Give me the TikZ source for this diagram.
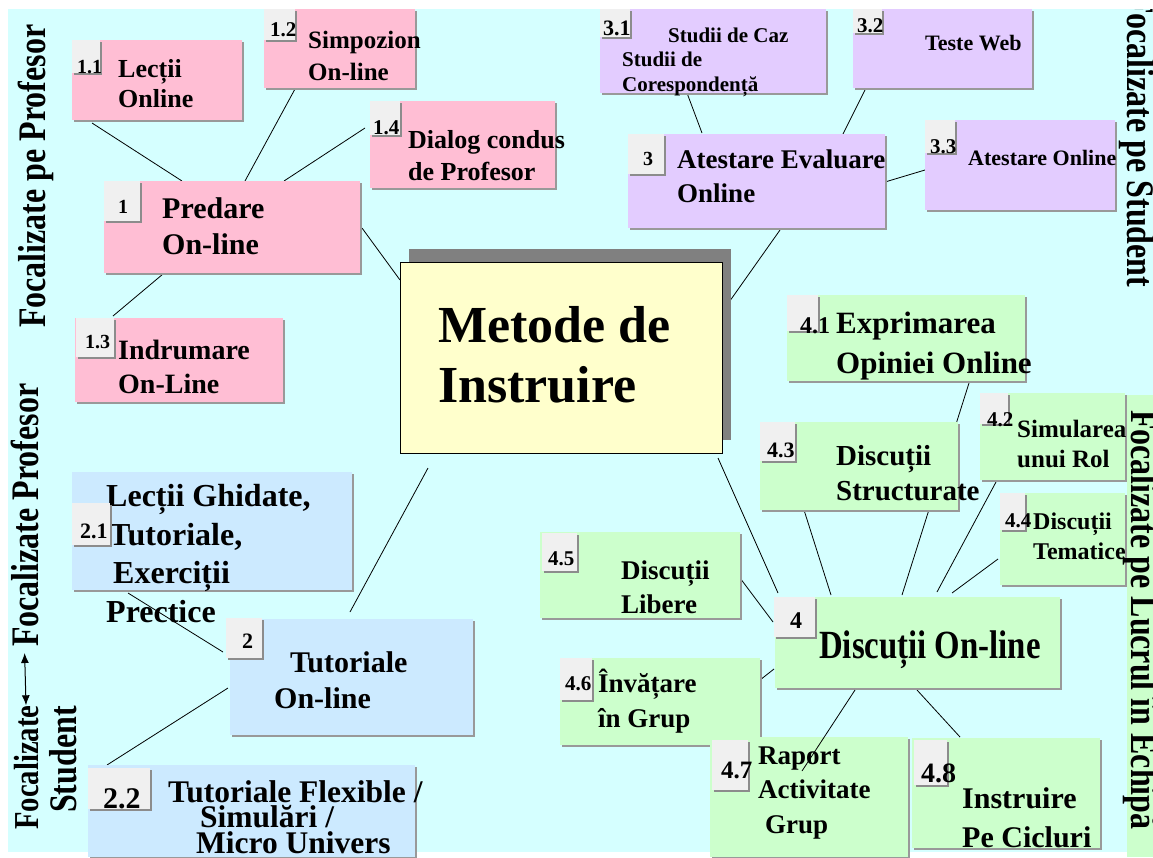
\documentclass[tikz,border=0pt]{standalone}
\usepackage{fontspec}
\setmainfont{Liberation Serif}
\newfontfamily\condfont{Liberation Serif}[FakeStretch=0.82]
\usetikzlibrary{calc,shadows,arrows.meta}
\pgfdeclarelayer{bg}
\pgfdeclarelayer{links}
\pgfsetlayers{bg,links,main}

\definecolor{slidebg}{RGB}{213,255,255}
\definecolor{pinkfill}{RGB}{255,190,212}
\definecolor{lilacfill}{RGB}{227,204,255}
\definecolor{bluefill}{RGB}{204,234,255}
\definecolor{greenfill}{RGB}{204,255,204}
\definecolor{yellowfill}{RGB}{255,255,204}
\definecolor{tabfill}{RGB}{240,240,240}

\newcommand\fsz[2]{\fontsize{#1}{#2}\selectfont\bfseries}

\tikzset{
  wh/.style 2 args={minimum width=#1pt, minimum height=#2pt},
  box/.style={anchor=north west, inner sep=0pt, outer sep=0pt,
    general shadow={fill=black!40, shadow xshift=2pt, shadow yshift=-2pt}},
  pinkbox/.style={box, fill=pinkfill},
  lilacbox/.style={box, fill=lilacfill},
  bluebox/.style={box, fill=bluefill},
  greenbox/.style={box, fill=greenfill},
  tabbox/.style={anchor=north west, inner sep=0pt, outer sep=0pt, fill=tabfill,
    general shadow={fill=black!45, shadow xshift=2pt, shadow yshift=-2pt}},
  numtxt/.style={anchor=base west, inner sep=0pt, font=\fsz{#1}{#1}},
  % multi-line text: base = baseline of the last line
  boxtxt/.style 2 args={anchor=base west, inner sep=0pt, align=left, font=\fsz{#1}{#2}},
  sidetxt/.style={anchor=base west, inner sep=0pt, font=\condfont\fsz{#1}{#1}},
  link/.style={draw=black, line width=0.8pt},
}

\begin{document}
\begin{tikzpicture}[x=1pt, y=-1pt]
\useasboundingbox (0,0) rectangle (1153,857);
\begin{pgfonlayer}{bg}
  \fill[white] (0,0) rectangle (1153,857);
  \fill[slidebg] (8,9) rectangle (1153,852);
  \fill[greenfill] (1127,395) rectangle (1153,857);
\end{pgfonlayer}

\begin{scope}
\clip (8,9) rectangle (1153,857);

% centre
\node[anchor=north west, inner sep=0pt, outer sep=0pt, wh={322}{191},
  fill=yellowfill, draw=black, line width=0.7pt,
  general shadow={fill=black!50, shadow xshift=9pt, shadow yshift=13pt}] (m) at (400,262) {};
\node[boxtxt={52}{60}] (xm) at (438,402) {Metode de\\Instruire};

% 1 - predare
\node[pinkbox, wh={170}{80}] (n11) at (72,40) {};
\node[boxtxt={26}{30}] (x11) at (118,107) {Lecții\\Online};
\node[tabbox, wh={28}{33}] (t11) at (72,40) {};
\node[numtxt=20] (k11) at (77,73) {1.1};

\node[pinkbox, wh={151}{79}] (n12) at (264,9) {};
\node[boxtxt={25}{32}] (x12) at (308,80) {Simpozion\\On-line};
\node[tabbox, wh={31}{31}] (t12) at (264,9) {};
\node[numtxt=21] (k12) at (270,36) {1.2};

\node[pinkbox, wh={185}{87}] (n14) at (370,101) {};
\node[boxtxt={26}{32}] (x14) at (408,180) {Dialog condus\\de Profesor};
\node[tabbox, wh={30}{34}] (t14) at (370,101) {};
\node[numtxt=21] (k14) at (373,134) {1.4};

\node[pinkbox, wh={256}{92}] (n1) at (104,181) {};
\node[boxtxt={30}{36}] (x1) at (162,254) {Predare\\On-line};
\node[tabbox, wh={36}{40}] (t1) at (104,181) {};
\node[numtxt=20] (k1) at (118,213) {1};

\node[pinkbox, wh={208}{84}] (n13) at (75,318) {};
\node[boxtxt={28}{34}] (x13) at (118,393) {Indrumare\\On-Line};
\node[tabbox, wh={38}{39}] (t13) at (76,318) {};
\node[numtxt=20] (k13) at (85,348) {1.3};

% 3 - atestare
\node[lilacbox, wh={226}{84}] (n31) at (600,9) {};
\node[boxtxt={21}{24.5}] (x31) at (622,91) {\hspace*{46pt}Studii de Caz\\Studii de\\Corespondență};
\node[tabbox, wh={30}{28}] (t31) at (600,9) {};
\node[numtxt=22] (k31) at (603,35) {3.1};

\node[lilacbox, wh={179}{79}] (n32) at (853,9) {};
\node[boxtxt={22}{22}] (x32) at (925,50) {Teste Web};
\node[tabbox, wh={29}{24}] (t32) at (853,9) {};
\node[numtxt=21] (k32) at (857,32) {3.2};

\node[lilacbox, wh={257}{94}] (n3) at (628,134) {};
\node[boxtxt={27}{34}] (x3) at (677,202) {Atestare Evaluare\\Online};
\node[tabbox, wh={36}{40}] (t3) at (628,134) {};
\node[numtxt=20] (k3) at (643,165) {3};

\node[lilacbox, wh={190}{90}] (n33) at (925,120) {};
\node[boxtxt={22}{22}] (x33) at (968,165) {Atestare Online};
\node[tabbox, wh={30}{33}] (t33) at (925,120) {};
\node[numtxt=21] (k33) at (930,153) {3.3};

% 2 - tutoriale
\node[bluebox, wh={280}{118}] (n21) at (72,472) {};
\node[boxtxt={32}{38.5}] (x21) at (106,622) {Lecții Ghidate,\\\hspace*{3pt}Tutoriale,\\\hspace*{7pt}Exerciții\\Prectice};
\node[tabbox, wh={38}{42}] (t21) at (72,503) {};
\node[numtxt=22] (k21) at (80,538) {2.1};

\node[bluebox, wh={243}{116}] (n2) at (230,619) {};
\node[boxtxt={30}{36}] (x2) at (274,708) {\hspace*{16pt}Tutoriale\\On-line};
\node[tabbox, wh={36}{40}] (t2) at (226,618) {};
\node[numtxt=22] (k2) at (242,648) {2};

\node[bluebox, wh={327}{92}] (n22) at (88,765) {};
\node[boxtxt={31.5}{25.5}] (x22) at (168,853) {Tutoriale Flexible /\\\hspace*{32pt}Simulări /\\\hspace*{28pt}Micro Univers};
\node[tabbox, wh={62}{41}] (t22) at (88,768) {};
\node[numtxt=30] (k22) at (103,808) {2.2};

% 4 - discutii
\node[greenbox, wh={238}{86}] (n41) at (787,295) {};
\node[boxtxt={31}{40}] (x41) at (836,373) {Exprimarea\\Opiniei Online};
\node[tabbox, wh={31}{36}] (t41) at (787,295) {};
\node[numtxt=24] (k41) at (800,333) {4.1};

\node[greenbox, wh={145}{87}] (n42) at (980,393) {};
\node[boxtxt={25}{30}] (x42) at (1017,467) {Simularea\\unui Rol};
\node[tabbox, wh={28}{31}] (t42) at (980,393) {};
\node[numtxt=21] (k42) at (987,426) {4.2};

\node[greenbox, wh={198}{88}] (n43) at (760,422) {};
\node[boxtxt={29}{35}] (x43) at (836,500) {Discuții\\Structurate};
\node[tabbox, wh={35}{39}] (t43) at (760,422) {};
\node[numtxt=22] (k43) at (767,457) {4.3};

\node[greenbox, wh={125}{92}] (n44) at (1000,493) {};
\node[boxtxt={24}{30}] (x44) at (1033,559) {Discuții\\Tematice};
\node[tabbox, wh={25}{37}] (t44) at (1000,493) {};
\node[numtxt=21] (k44) at (1005,527) {4.4};

\node[greenbox, wh={200}{86}] (n45) at (540,532) {};
\node[boxtxt={27}{34}] (x45) at (621,613) {Discuții\\Libere};
\node[tabbox, wh={35}{38}] (t45) at (542,533) {};
\node[numtxt=21] (k45) at (548,565) {4.5};

\node[greenbox, wh={285}{91}] (n4) at (775,597) {};
\node[sidetxt=40] (x4) at (819,658) {Discuții On-line};
\node[tabbox, wh={41}{40}] (t4) at (774,597) {};
\node[numtxt=24] (k4) at (790,628) {4};

\node[greenbox, wh={200}{87}] (n46) at (560,658) {};
\node[boxtxt={27}{35}] (x46) at (598,727) {Învățare\\în Grup};
\node[tabbox, wh={32}{42}] (t46) at (560,658) {};
\node[numtxt=21] (k46) at (565,690) {4.6};

\node[greenbox, wh={198}{120}] (n47) at (710,737) {};
\node[boxtxt={27}{34.5}] (x47) at (758,833) {Raport\\Activitate\\\hspace*{7pt}Grup};
\node[tabbox, wh={36}{50}] (t47) at (712,740) {};
\node[numtxt=25] (k47) at (721,778) {4.7};

\node[greenbox, wh={188}{110}] (n48) at (912,738) {};
\node[boxtxt={30}{39}] (x48) at (962,847) {Instruire\\Pe Cicluri};
\node[tabbox, wh={33}{45}] (t48) at (914,740) {};
\node[numtxt=28] (k48) at (921,782) {4.8};

% side captions
\node[sidetxt=39, rotate=90] (sprof) at (45,328) {Focalizate pe Profesor};
\node[sidetxt=39, rotate=-90] (sstud) at (1127,-6) {Focalizate pe Student};
\node[sidetxt=39, rotate=-90] (slucru) at (1131,410) {Focalizate pe Lucrul în Echipă};
\node[sidetxt=35, rotate=90] (sfoc) at (38,830) {Focalizate};
\node[sidetxt=39, rotate=90] (sfprof) at (38,647) {Focalizate Profesor};
\node[sidetxt=39, rotate=90] (sstu) at (76,813) {Student};
\draw[{Latex[length=10pt,width=8pt]}-{Latex[length=10pt,width=8pt]}, line width=1pt, shorten >=6pt]
  (sfoc.east) -- (sfprof.west);
\end{scope}

\begin{pgfonlayer}{links}
\draw[link] ($(n1.north west)+(78,0)$) -- ($(n11.south west)+(20,3)$);
\draw[link] ($(n1.north west)+(141,0)$) -- ($(n12.south west)+(31,1)$);
\draw[link] ($(n1.north west)+(180,0)$) -- ($(n14.north west)+(-5,27)$);
\draw[link] ($(n1.south west)+(59,1)$) -- ($(n13.north west)+(38,-2)$);
\draw[link] ($(n1.north east)+(2,47)$) -- ($(m.north west)+(0,18)$);
\draw[link] ($(m.north east)+(5,43)$) -- ($(n3.south west)+(152,2)$);
\draw[link] ($(m.south east)+(-4,5)$) -- ($(n4.north west)+(3,-4)$);
\draw[link] ($(m.south west)+(28,15)$) -- ($(n2.north west)+(120,-7)$);
\draw[link] ($(n21.south west)+(56,3)$) -- ($(n2.north west)+(-7,33)$);
\draw[link] ($(n2.north west)+(-2,69)$) -- ($(n22.north west)+(19,0)$);
\draw[link] ($(n31.south west)+(87,0)$) -- ($(n3.north west)+(74,-1)$);
\draw[link] ($(n32.south west)+(12,2)$) -- ($(n3.north west)+(215,0)$);
\draw[link] ($(n33.north west)+(0,50)$) -- ($(n3.north east)+(0,48)$);
\draw[link] ($(n41.south west)+(182,2)$) -- ($(n4.north west)+(127,-2)$);
\draw[link] ($(n43.south west)+(44,0)$) -- ($(n4.north west)+(56,-2)$);
\draw[link] ($(n42.south west)+(16,2)$) -- ($(n4.north west)+(162,-5)$);
\draw[link] ($(n44.north west)+(-2,66)$) -- ($(n4.north west)+(177,-4)$);
\draw[link] ($(n45.north east)+(0,46)$) -- ($(n4.north west)+(-2,25)$);
\draw[link] ($(n46.north east)+(0,22)$) -- ($(n4.south west)+(-1,-19)$);
\draw[link] ($(n4.south west)+(142,2)$) -- ($(n48.north west)+(48,-1)$);
\end{pgfonlayer}
\draw[link] ($(n4.south west)+(80,2)$) -- ($(n47.north west)+(92,34)$);
\end{tikzpicture}
\end{document}
